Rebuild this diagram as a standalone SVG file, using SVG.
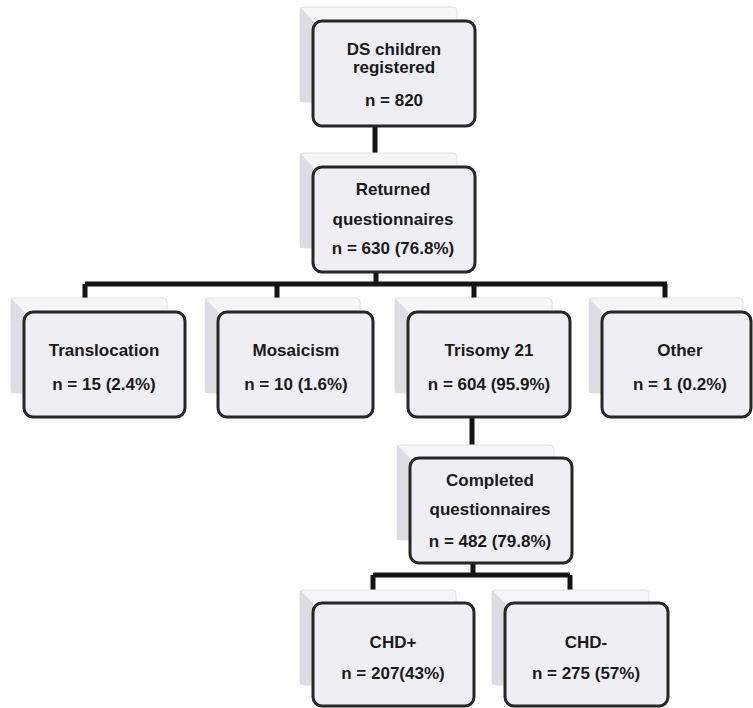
<svg xmlns="http://www.w3.org/2000/svg" width="753" height="708" viewBox="0 0 753 708">
<style>
.back{fill:#f6f6f8;stroke:#e2e2e8;stroke-width:1}
.side{fill:#dcdce2}
.box{fill:#efeef5;stroke:#262626;stroke-width:3}
.t{font-family:"Liberation Sans",Arial,sans-serif;font-weight:bold;font-size:17px;fill:#1a1a1a;text-anchor:middle}
.c{fill:none;stroke:#141414;stroke-width:5;stroke-linecap:butt;stroke-linejoin:miter}
</style>
<rect width="753" height="708" fill="#ffffff"/>
<g id="connectors">
<path class="c" d="M375,126 V153"/>
<path class="c" d="M376,272 V284 M85,284 H667 M85,284 V298 M277,284 V298 M474,284 V298 M665,284 V298"/>
<path class="c" d="M472,417 V445"/>
<path class="c" d="M473,563 V575 M373,575 H570 M373,575 V590 M570,575 V590"/>
</g>
<g id="n1">
<rect class="back" x="300" y="7" width="157" height="95" rx="4"/>
<polygon class="side" points="300,7 313,21 313,102 300,102"/>
<rect class="box" x="313" y="21" width="162" height="105" rx="9"/>
<text class="t" x="394" y="55">DS children</text>
<text class="t" x="394" y="73">registered</text>
<text class="t" x="394" y="106">n = 820</text>
</g>
<g id="n2">
<rect class="back" x="300" y="153" width="157" height="95" rx="4"/>
<polygon class="side" points="300,153 313,167 313,248 300,248"/>
<rect class="box" x="313" y="167" width="162" height="105" rx="9"/>
<text class="t" x="393" y="195">Returned</text>
<text class="t" x="393" y="225">questionnaires</text>
<text class="t" x="393" y="254">n = 630 (76.8%)</text>
</g>
<g id="n3">
<rect class="back" x="11" y="298" width="156" height="95" rx="4"/>
<polygon class="side" points="11,298 24,312 24,393 11,393"/>
<rect class="box" x="24" y="312" width="161" height="105" rx="9"/>
<text class="t" x="104" y="356">Translocation</text>
<text class="t" x="104" y="390">n = 15 (2.4%)</text>
</g>
<g id="n4">
<rect class="back" x="205" y="298" width="155" height="95" rx="4"/>
<polygon class="side" points="205,298 218,312 218,393 205,393"/>
<rect class="box" x="218" y="312" width="155" height="105" rx="9"/>
<text class="t" x="296" y="356">Mosaicism</text>
<text class="t" x="296" y="390">n = 10 (1.6%)</text>
</g>
<g id="n5">
<rect class="back" x="395" y="298" width="157" height="95" rx="4"/>
<polygon class="side" points="395,298 408,312 408,393 395,393"/>
<rect class="box" x="408" y="312" width="162" height="105" rx="9"/>
<text class="t" x="489" y="356">Trisomy 21</text>
<text class="t" x="489" y="390">n = 604 (95.9%)</text>
</g>
<g id="n6">
<rect class="back" x="589" y="298" width="154" height="95" rx="4"/>
<polygon class="side" points="589,298 602,312 602,393 589,393"/>
<rect class="box" x="602" y="312" width="149" height="105" rx="9"/>
<text class="t" x="680" y="356">Other</text>
<text class="t" x="680" y="390">n = 1 (0.2%)</text>
</g>
<g id="n7">
<rect class="back" x="397" y="445" width="157" height="95" rx="4"/>
<polygon class="side" points="397,445 410,458 410,540 397,540"/>
<rect class="box" x="410" y="458" width="162" height="105" rx="9"/>
<text class="t" x="490" y="486">Completed</text>
<text class="t" x="490" y="515">questionnaires</text>
<text class="t" x="490" y="547">n = 482 (79.8%)</text>
</g>
<g id="n8">
<rect class="back" x="300" y="590" width="156" height="95" rx="4"/>
<polygon class="side" points="300,590 313,603 313,685 300,685"/>
<rect class="box" x="313" y="603" width="161" height="103" rx="9"/>
<text class="t" x="393" y="648">CHD+</text>
<text class="t" x="393" y="679">n = 207(43%)</text>
</g>
<g id="n9">
<rect class="back" x="492" y="590" width="157" height="95" rx="4"/>
<polygon class="side" points="492,590 505,603 505,685 492,685"/>
<rect class="box" x="505" y="603" width="163" height="103" rx="9"/>
<text class="t" x="586" y="648">CHD-</text>
<text class="t" x="586" y="679">n = 275 (57%)</text>
</g>
</svg>
